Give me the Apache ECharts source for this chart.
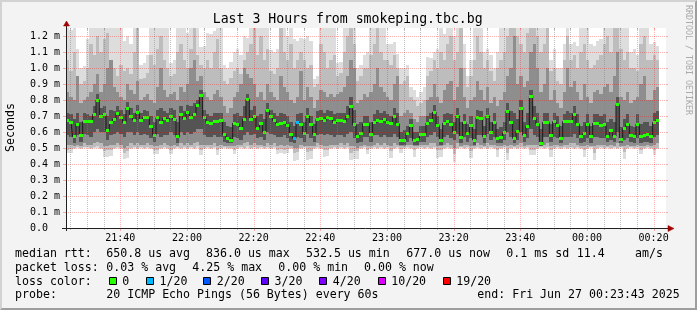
<!DOCTYPE html>
<html><head><meta charset="utf-8">
<script src="https://cdn.jsdelivr.net/npm/echarts@6/dist/echarts.min.js"></script>
<style>html,body{margin:0;padding:0;background:#f3f3f3}#c{width:697px;height:310px}</style>
</head><body><div id="c"></div>
<script>
// ---------------- data ----------------
const startTime = '21:23:43';
const stepSeconds = 60;
const rangeSeconds = 10800;
const xTickLabels = ['21:40','22:00','22:20','22:40','23:00','23:20','23:40','00:00','00:20'];
const yTickValues = [0,0.1,0.2,0.3,0.4,0.5,0.6,0.7,0.8,0.9,1.0,1.1,1.2];

// median rtt per minute (ms)
const median = [
 0.67,0.66,0.57,0.65,0.58,0.665,0.665,0.665,0.71,0.80,
 0.695,0.71,0.61,0.66,0.68,0.715,0.69,0.66,0.75,0.70,
 0.675,0.72,0.67,0.69,0.69,0.635,0.58,0.69,0.66,0.685,
 0.675,0.70,0.68,0.57,0.71,0.685,0.72,0.69,0.71,0.765,
 0.83,0.69,0.66,0.655,0.665,0.665,0.67,0.585,0.56,0.55,
 0.655,0.65,0.62,0.68,0.805,0.68,0.695,0.625,0.655,0.60,
 0.735,0.695,0.67,0.65,0.655,0.66,0.64,0.585,0.56,0.66,
 0.645,0.59,0.70,0.645,0.585,0.68,0.685,0.67,0.69,0.685,
 0.66,0.67,0.675,0.665,0.70,0.76,0.645,0.575,0.59,0.65,
 0.65,0.585,0.66,0.67,0.665,0.68,0.66,0.655,0.695,0.65,
 0.545,0.55,0.59,0.64,0.545,0.555,0.585,0.585,0.655,0.67,
 0.725,0.64,0.55,0.655,0.665,0.645,0.60,0.70,0.565,0.66,
 0.59,0.64,0.55,0.69,0.685,0.57,0.70,0.60,0.66,0.56,
 0.565,0.595,0.73,0.66,0.56,0.605,0.75,0.58,0.635,0.825,
 0.685,0.65,0.53,0.66,0.66,0.58,0.665,0.64,0.56,0.665,
 0.665,0.665,0.71,0.65,0.57,0.59,0.65,0.57,0.655,0.655,
 0.64,0.645,0.575,0.61,0.575,0.77,0.555,0.62,0.65,0.58,
 0.57,0.65,0.57,0.58,0.585,0.57,0.66,0.675];

// lost pings (of 20) per minute
const loss = [
 0,0,0,0,0,0,0,0,0,0, 0,0,0,0,0,0,0,0,0,0, 0,0,0,0,0,0,0,0,0,0,
 0,0,0,0,0,0,0,0,0,0, 0,0,0,0,0,0,0,0,0,0, 0,0,0,0,0,0,0,0,0,0,
 0,0,0,0,0,0,0,0,1,1, 0,0,0,0,0,0,0,0,0,0, 0,0,0,0,0,0,0,0,0,0,
 0,0,0,0,0,0,0,0,0,0, 0,0,0,0,0,0,0,0,0,0, 0,0,0,0,0,0,0,0,0,0,
 0,0,0,0,0,0,0,0,0,0, 0,0,0,0,0,0,0,0,0,0, 0,0,0,0,0,0,0,0,0,0,
 0,0,0,0,0,0,0,0,0,0, 0,0,0,0,0,0,0,0,0,0, 0,0,0,0,0,0,0,0];

// smoke: sorted ping rtts (ms), ping #1 (fastest) .. #20 (slowest)
const ping01 = [
 0.47,0.47,0.495,0.5,0.495,0.5,0.5,0.495,0.5,0.5,
 0.495,0.445,0.445,0.45,0.495,0.5,0.495,0.43,0.435,0.495,
 0.5,0.495,0.5,0.495,0.5,0.495,0.46,0.46,0.495,0.5,
 0.495,0.46,0.495,0.5,0.495,0.5,0.495,0.5,0.495,0.5,
 0.455,0.495,0.5,0.495,0.5,0.455,0.495,0.5,0.495,0.495,
 0.465,0.495,0.5,0.495,0.5,0.495,0.5,0.495,0.5,0.495,
 0.5,0.495,0.5,0.465,0.47,0.465,0.47,0.495,0.42,0.425,
 0.495,0.5,0.425,0.43,0.495,0.5,0.495,0.445,0.45,0.495,
 0.5,0.495,0.5,0.495,0.5,0.425,0.43,0.43,0.495,0.5,
 0.465,0.495,0.5,0.495,0.5,0.495,0.5,0.44,0.495,0.5,
 0.47,0.495,0.5,0.495,0.445,0.495,0.5,0.495,0.5,0.495,
 0.5,0.44,0.445,0.495,0.5,0.495,0.41,0.495,0.5,0.495,
 0.5,0.435,0.495,0.5,0.495,0.5,0.495,0.5,0.495,0.445,
 0.495,0.5,0.425,0.495,0.5,0.495,0.5,0.495,0.5,0.455,
 0.455,0.495,0.5,0.495,0.5,0.445,0.495,0.5,0.495,0.5,
 0.495,0.5,0.495,0.5,0.495,0.445,0.495,0.5,0.425,0.495,
 0.5,0.495,0.5,0.495,0.5,0.495,0.5,0.43,0.495,0.5,
 0.495,0.5,0.465,0.495,0.5,0.495,0.455,0.495];
const ping03 = [
 0.49,0.495,0.5,0.505,0.5,0.505,0.505,0.5,0.505,0.51,
 0.5,0.48,0.485,0.49,0.5,0.505,0.5,0.47,0.48,0.5,
 0.505,0.5,0.505,0.5,0.505,0.5,0.49,0.49,0.5,0.505,
 0.5,0.49,0.5,0.505,0.5,0.505,0.5,0.505,0.5,0.51,
 0.49,0.5,0.505,0.5,0.505,0.49,0.5,0.505,0.5,0.5,
 0.49,0.5,0.505,0.5,0.51,0.5,0.505,0.5,0.505,0.5,
 0.505,0.5,0.505,0.49,0.495,0.49,0.495,0.5,0.47,0.475,
 0.5,0.505,0.475,0.48,0.5,0.505,0.5,0.485,0.49,0.5,
 0.505,0.5,0.505,0.5,0.505,0.47,0.48,0.48,0.5,0.505,
 0.49,0.5,0.505,0.5,0.505,0.5,0.505,0.48,0.5,0.505,
 0.495,0.5,0.505,0.5,0.485,0.5,0.505,0.5,0.505,0.5,
 0.505,0.485,0.485,0.5,0.505,0.5,0.46,0.5,0.505,0.5,
 0.505,0.48,0.5,0.505,0.5,0.505,0.5,0.505,0.5,0.485,
 0.5,0.505,0.47,0.5,0.505,0.5,0.505,0.5,0.505,0.49,
 0.49,0.5,0.505,0.5,0.505,0.485,0.5,0.505,0.5,0.505,
 0.5,0.505,0.5,0.505,0.5,0.485,0.5,0.505,0.47,0.5,
 0.505,0.5,0.505,0.5,0.505,0.5,0.505,0.475,0.5,0.505,
 0.5,0.505,0.49,0.5,0.505,0.5,0.49,0.5];
const ping06 = [
 0.52,0.52,0.51,0.52,0.51,0.53,0.52,0.52,0.53,0.54,
 0.53,0.51,0.51,0.52,0.52,0.53,0.52,0.5,0.51,0.53,
 0.52,0.53,0.52,0.52,0.53,0.52,0.51,0.51,0.52,0.53,
 0.52,0.51,0.52,0.51,0.53,0.52,0.53,0.52,0.53,0.54,
 0.52,0.52,0.52,0.52,0.53,0.51,0.52,0.51,0.51,0.51,
 0.51,0.52,0.52,0.53,0.54,0.52,0.53,0.52,0.52,0.51,
 0.53,0.52,0.53,0.51,0.52,0.51,0.52,0.51,0.5,0.5,
 0.52,0.51,0.51,0.51,0.51,0.53,0.52,0.51,0.51,0.52,
 0.52,0.52,0.53,0.52,0.53,0.51,0.51,0.5,0.51,0.52,
 0.51,0.51,0.52,0.53,0.52,0.53,0.52,0.51,0.53,0.52,
 0.51,0.51,0.52,0.52,0.51,0.51,0.52,0.52,0.52,0.53,
 0.53,0.51,0.51,0.52,0.53,0.52,0.5,0.53,0.51,0.52,
 0.52,0.51,0.51,0.53,0.52,0.51,0.53,0.52,0.52,0.51,
 0.51,0.52,0.51,0.52,0.51,0.52,0.53,0.51,0.52,0.52,
 0.52,0.52,0.51,0.52,0.53,0.51,0.52,0.52,0.51,0.52,
 0.52,0.53,0.53,0.52,0.51,0.51,0.52,0.51,0.51,0.52,
 0.52,0.52,0.51,0.52,0.51,0.53,0.51,0.51,0.52,0.51,
 0.51,0.52,0.51,0.51,0.52,0.51,0.52,0.53];
const ping09 = [
 0.58,0.57,0.53,0.58,0.54,0.59,0.58,0.57,0.60,0.62,
 0.60,0.60,0.55,0.58,0.59,0.60,0.59,0.57,0.60,0.60,
 0.58,0.60,0.58,0.59,0.58,0.56,0.54,0.59,0.57,0.58,
 0.58,0.60,0.58,0.53,0.60,0.58,0.60,0.59,0.60,0.62,
 0.62,0.58,0.57,0.57,0.58,0.57,0.57,0.54,0.53,0.53,
 0.57,0.56,0.55,0.58,0.60,0.58,0.59,0.56,0.57,0.55,
 0.60,0.59,0.58,0.57,0.57,0.58,0.56,0.54,0.53,0.57,
 0.56,0.54,0.59,0.56,0.54,0.58,0.59,0.58,0.59,0.58,
 0.57,0.58,0.58,0.57,0.59,0.60,0.56,0.53,0.54,0.57,
 0.57,0.54,0.58,0.58,0.57,0.58,0.57,0.57,0.59,0.57,
 0.52,0.52,0.54,0.56,0.52,0.52,0.54,0.54,0.57,0.58,
 0.60,0.57,0.52,0.57,0.58,0.56,0.55,0.59,0.53,0.57,
 0.54,0.56,0.52,0.58,0.58,0.53,0.59,0.55,0.57,0.53,
 0.53,0.55,0.60,0.57,0.53,0.55,0.60,0.54,0.56,0.62,
 0.58,0.57,0.51,0.57,0.57,0.54,0.57,0.56,0.53,0.57,
 0.57,0.57,0.59,0.56,0.53,0.54,0.56,0.53,0.57,0.57,
 0.56,0.56,0.54,0.55,0.54,0.60,0.53,0.55,0.56,0.54,
 0.53,0.56,0.53,0.54,0.54,0.53,0.57,0.58];
const ping12 = [
 0.72,0.71,0.68,0.72,0.66,0.72,0.71,0.70,0.76,0.84,
 0.75,0.76,0.70,0.74,0.73,0.76,0.74,0.71,0.79,0.75,
 0.72,0.77,0.72,0.74,0.73,0.70,0.66,0.74,0.75,0.73,
 0.72,0.75,0.74,0.66,0.76,0.73,0.77,0.76,0.78,0.80,
 0.86,0.74,0.71,0.70,0.72,0.72,0.72,0.66,0.64,0.63,
 0.71,0.72,0.70,0.76,0.84,0.74,0.76,0.70,0.71,0.68,
 0.78,0.74,0.72,0.70,0.72,0.71,0.70,0.66,0.64,0.71,
 0.72,0.66,0.75,0.70,0.65,0.73,0.74,0.72,0.74,0.73,
 0.71,0.72,0.72,0.72,0.76,0.82,0.74,0.65,0.66,0.70,
 0.70,0.66,0.71,0.74,0.72,0.73,0.71,0.70,0.75,0.72,
 0.60,0.61,0.64,0.68,0.60,0.60,0.64,0.64,0.70,0.72,
 0.77,0.70,0.62,0.71,0.72,0.71,0.66,0.75,0.66,0.71,
 0.65,0.70,0.62,0.74,0.73,0.64,0.75,0.66,0.72,0.62,
 0.63,0.66,0.78,0.73,0.72,0.68,0.80,0.66,0.72,0.86,
 0.76,0.72,0.62,0.72,0.72,0.65,0.72,0.70,0.64,0.71,
 0.73,0.72,0.76,0.71,0.64,0.66,0.71,0.64,0.71,0.71,
 0.70,0.71,0.66,0.68,0.66,0.82,0.63,0.68,0.71,0.64,
 0.63,0.71,0.65,0.66,0.66,0.64,0.72,0.73];
const ping15 = [
 0.85,0.82,0.80,0.95,0.78,0.80,0.82,0.85,0.90,0.96,
 0.85,0.90,1.00,1.05,0.88,0.85,0.82,0.80,0.90,0.86,
 0.84,0.92,0.80,0.82,0.84,0.80,0.78,0.88,1.00,0.86,
 0.82,0.84,0.85,0.80,0.88,0.85,0.90,1.00,1.05,0.92,
 0.95,0.85,0.82,0.80,0.84,0.86,0.82,0.76,0.72,0.75,
 0.82,0.85,0.90,1.00,0.96,0.94,0.90,0.82,0.85,0.80,
 0.90,0.85,0.82,0.80,0.95,0.88,0.85,0.80,0.78,0.82,
 0.98,0.80,0.88,0.82,0.75,0.80,0.86,0.85,0.82,0.84,
 0.82,0.84,0.85,0.88,0.95,1.05,1.00,0.78,0.80,0.84,
 0.82,0.85,0.90,1.00,0.88,0.85,0.82,0.80,0.90,0.95,
 0.70,0.72,0.74,0.72,0.68,0.66,0.70,0.70,0.80,0.82,
 0.90,0.82,0.78,0.86,0.90,0.92,0.80,0.88,1.00,0.82,
 0.75,0.80,0.82,0.92,0.86,0.80,0.88,0.78,0.82,0.76,
 0.80,0.85,0.95,1.00,1.20,0.90,0.95,0.88,0.92,1.10,
 1.15,1.00,0.85,0.90,1.00,0.80,0.86,0.78,0.75,0.85,
 1.00,0.88,0.92,0.85,0.80,0.90,0.82,0.78,0.85,0.86,
 0.84,0.88,0.90,0.85,0.95,1.10,0.82,0.80,0.85,0.78,
 0.80,0.82,0.90,0.95,0.80,0.80,0.86,0.88];
const ping18 = [
 1.05,0.98,1.10,0.95,0.90,0.92,1.00,1.15,1.08,1.20,
 1.10,1.18,1.22,1.05,1.00,0.95,1.02,0.98,1.00,0.96,
 1.10,1.25,0.93,0.94,0.97,1.08,1.02,1.12,1.20,1.05,
 1.00,0.95,0.96,1.10,1.15,1.05,1.00,1.12,1.30,1.08,
 1.02,1.00,1.05,1.00,1.10,1.18,1.00,0.92,0.90,0.94,
 0.98,1.00,0.96,1.05,1.10,1.15,1.30,1.08,1.20,1.05,
 1.12,0.98,0.96,1.00,1.25,1.10,1.05,1.15,1.00,1.05,
 1.10,1.05,1.00,1.02,0.88,0.90,1.15,1.10,1.00,1.05,
 1.08,0.95,0.97,1.10,1.20,1.30,1.15,0.92,0.95,1.00,
 1.00,1.08,1.15,1.30,1.10,1.05,1.05,1.02,1.08,1.00,
 0.90,0.92,0.95,0.82,0.80,0.76,0.78,0.80,0.95,0.98,
 1.05,1.00,1.10,1.05,1.15,1.20,1.05,1.10,1.25,1.00,
 0.88,0.95,1.05,1.20,1.10,1.00,1.05,0.98,0.92,1.00,
 1.05,1.10,1.20,1.25,1.30,1.20,1.15,1.10,1.22,1.30,
 1.30,1.20,1.10,1.15,1.25,0.98,1.00,0.92,0.90,1.05,
 1.20,1.05,1.08,1.00,1.10,1.15,1.05,1.00,1.02,1.05,
 1.08,1.15,1.20,1.10,1.25,1.30,1.12,1.05,1.10,1.00,
 1.00,0.98,1.15,1.20,1.05,1.05,1.08,1.05];
const ping20 = [
 1.30,1.24,1.30,1.12,1.00,1.01,1.18,1.30,1.30,1.30,
 1.30,1.30,1.30,1.30,1.30,1.30,1.30,1.17,1.20,1.15,
 1.30,1.30,1.02,1.03,1.08,1.30,1.30,1.30,1.30,1.30,
 1.30,1.03,1.05,1.30,1.30,1.30,1.22,1.30,1.30,1.30,
 1.13,1.14,1.22,1.21,1.23,1.30,1.30,1.02,1.00,1.04,
 1.10,1.12,1.08,1.20,1.19,1.30,1.30,1.30,1.30,1.30,
 1.30,1.11,1.10,1.12,1.30,1.30,1.20,1.30,1.18,1.17,
 1.19,1.18,1.20,1.17,0.93,0.95,1.30,1.30,1.30,1.30,
 1.30,1.03,1.04,1.30,1.30,1.30,1.30,1.00,1.02,1.08,
 1.10,1.30,1.30,1.30,1.30,1.30,1.15,1.15,1.16,1.09,
 1.00,1.00,1.02,0.88,0.86,0.82,0.85,0.88,1.07,1.06,
 1.10,1.12,1.30,1.21,1.30,1.30,1.20,1.30,1.30,1.15,
 0.95,1.05,1.30,1.30,1.30,1.10,1.12,1.08,1.00,1.10,
 1.30,1.30,1.30,1.30,1.30,1.30,1.30,1.30,1.30,1.30,
 1.30,1.30,1.30,1.30,1.30,1.05,1.12,1.00,1.00,1.15,
 1.30,1.15,1.16,1.14,1.30,1.30,1.30,1.15,1.14,1.17,
 1.18,1.30,1.30,1.30,1.30,1.30,1.30,1.30,1.30,1.10,
 1.12,1.08,1.30,1.30,1.30,1.15,1.16,1.14];

const legendRows = [
  {y: 254.4, items: [['median rtt:',15],['650.8 us avg',106.3],['836.0 us max',206],['532.5 us min',306],['677.0 us now',406.3],['0.1 ms sd',506.3],['11.4',576.7],['am/s',635]]},
  {y: 268.1, items: [['packet loss:',15],['0.03 % avg',106.3],['4.25 % max',192.3],['0.00 % min',278.3],['0.00 % now',364]]},
  {y: 281.7, items: [['loss color:',15]]},
  {y: 295.4, items: [['probe:',15],['20 ICMP Echo Pings (56 Bytes) every 60s',106.3],['end: Fri Jun 27 00:23:43 2025',477.3]]}
];
const lossLegendLabels = ['0','1/20','2/20','3/20','4/20','10/20','19/20'];
const lossLegendLevels = [0,1,2,3,4,10,19];
const lossLegendX = [108.7,146,203.3,261,319.3,377.7,442.7];
const lossColors = {0:'#26ff00',1:'#00b8ff',2:'#0059ff',3:'#5e00ff',4:'#7e00ff',10:'#dd00ff',19:'#ff0000'};

// ---------------- helpers ----------------
const FONT = '"DejaVu Sans Mono", monospace';
function toSec(s){const p=s.split(':').map(Number);return p[0]*3600+p[1]*60+(p[2]||0);}
const t0 = toSec(startTime);
function rel(label){let d=toSec(label)-t0; if(d<0) d+=86400; return d;}
const xTickSeconds = xTickLabels.map(rel);
const minorSeconds = [];
for (let s = Math.ceil(t0/300)*300 - t0; s <= rangeSeconds; s += 300) {
  if (xTickSeconds.indexOf(s) < 0) minorSeconds.push(s);
}
const bandColors = ['#dddddd','#bdbdbd','#8e8e8e','#545454'];

const smokeData = median.map((m,k)=>[k*stepSeconds, ping01[k], ping03[k], ping06[k], ping09[k], ping12[k], ping15[k], ping18[k], ping20[k]]);
const medLineData = median.map((m,k)=>[k*stepSeconds + stepSeconds/2, m]);
const medMarkData = median.map((m,k)=>[k*stepSeconds, m, loss[k]]);
const gridData = [];
minorSeconds.forEach(s=>gridData.push([0,s]));
xTickSeconds.forEach(s=>gridData.push([1,s]));
yTickValues.forEach(v=>{ if(v>0) gridData.push([2,v]); });

const GRID_MINOR = 'rgba(130,130,130,0.5)';
const GRID_MAJOR = 'rgba(255,0,0,0.3)';

function renderSmoke(params, api){
  const cs = params.coordSys;
  const t = api.value(0);
  const xa = Math.round(api.coord([t,0])[0]);
  const xb = Math.round(api.coord([t+stepSeconds,0])[0]);
  const top = cs.y, bot = cs.y + cs.height;
  const Y = v => Math.round(Math.min(bot, Math.max(top, api.coord([t, v])[1])));
  const kids = [];
  bandColors.forEach((c,i)=>{
    const lo = api.value(1+i), hi = api.value(8-i);
    const y1 = Y(hi), y2 = Y(lo);
    if (y2 > y1) kids.push({type:'rect', shape:{x:xa,y:y1,width:xb-xa,height:y2-y1}, style:{fill:c}});
  });
  return {type:'group', children:kids};
}
function renderMed(params, api){
  const t = api.value(0);
  const xa = Math.round(api.coord([t,0])[0]);
  const xb = Math.round(api.coord([t+stepSeconds,0])[0]);
  const y = api.coord([t, api.value(1)])[1];
  const lv = api.value(2);
  return {type:'rect', shape:{x:xa, y:Math.round(y-1.5), width:xb-xa, height:3}, style:{fill: lossColors[lv] || '#26ff00'}};
}
function renderGrid(params, api){
  const cs = params.coordSys;
  const kind = api.value(0), v = api.value(1);
  const top = cs.y, bot = cs.y + cs.height, left = cs.x, right = cs.x + cs.width;
  if (kind < 2) {
    const x = Math.round(api.coord([v,0])[0]) + 0.5;
    const col = kind === 1 ? GRID_MAJOR : GRID_MINOR;
    return {type:'group', children:[
      {type:'line', shape:{x1:x,y1:top,x2:x,y2:bot}, style:{stroke:col, lineWidth:1, lineDash:[1,1]}},
      {type:'line', shape:{x1:x,y1:bot,x2:x,y2:bot+(kind===1?3:2)}, style:{stroke:col, lineWidth:1}},
      {type:'line', shape:{x1:x,y1:top,x2:x,y2:top+2}, style:{stroke:col, lineWidth:1}}
    ]};
  }
  const y = Math.round(api.coord([0,v])[1]) + 0.5;
  return {type:'group', children:[
    {type:'line', shape:{x1:left,y1:y,x2:right,y2:y}, style:{stroke:GRID_MAJOR, lineWidth:1, lineDash:[1,1]}},
    {type:'line', shape:{x1:left-3,y1:y,x2:left,y2:y}, style:{stroke:GRID_MAJOR, lineWidth:1}},
    {type:'line', shape:{x1:right,y1:y,x2:right+2,y2:y}, style:{stroke:GRID_MAJOR, lineWidth:1}}
  ]};
}
function renderFrame(params, api){
  const cs = params.coordSys;
  const left = cs.x + 0.5, bot = cs.y + cs.height + 0.5, top = cs.y, right = cs.x + cs.width;
  const AX = '#202020', AR = '#a00000';
  return {type:'group', children:[
    {type:'line', shape:{x1:cs.x-4, y1:bot, x2:right+3, y2:bot}, style:{stroke:AX, lineWidth:1}},
    {type:'line', shape:{x1:left, y1:cs.y+cs.height+3, x2:left, y2:top-2}, style:{stroke:AX, lineWidth:1}},
    {type:'polygon', shape:{points:[[right+2,bot-3],[right+8,bot],[right+2,bot+3]]}, style:{fill:AR, stroke:AR, lineWidth:0.5}},
    {type:'polygon', shape:{points:[[left-3,top-2],[left,top-7],[left+3,top-2]]}, style:{fill:AR, stroke:AR, lineWidth:0.5}}
  ]};
}

// ---------------- graphic texts ----------------
const graphics = [
  {type:'polygon', silent:true, shape:{points:[[0,0],[697,0],[695,2],[2,2],[2,308],[0,310]]}, style:{fill:'#d2d2d2'}},
  {type:'polygon', silent:true, shape:{points:[[697,0],[697,310],[0,310],[2,308],[695,308],[695,2]]}, style:{fill:'#9e9e9e'}},
  {type:'text', x:347.7, y:19.5, style:{text:'Last 3 Hours from smokeping.tbc.bg', font:'13.2px '+FONT, fill:'#000', align:'center', verticalAlign:'middle'}},
  {type:'text', x:11, y:127.5, rotation:Math.PI/2, style:{text:'Seconds', font:'11.6px '+FONT, fill:'#000', align:'center', verticalAlign:'middle'}},
  {type:'text', x:688, y:5, rotation:-Math.PI/2, style:{text:'RRDTOOL / TOBI OETIKER', font:'8.3px '+FONT, fill:'#aaaaaa', align:'left', verticalAlign:'middle'}}
];
legendRows.forEach(r=>r.items.forEach(([txt,x])=>{
  graphics.push({type:'text', x:x, y:r.y, style:{text:txt, font:'11.6px '+FONT, fill:'#000', align:'left', verticalAlign:'middle'}});
}));
lossLegendLabels.forEach((lab,i)=>{
  const sx = Math.round(lossLegendX[i]) + 0.5;
  graphics.push({type:'rect', shape:{x:sx, y:277.5, width:7, height:7}, style:{fill:lossColors[lossLegendLevels[i]], stroke:'#000', lineWidth:1}});
  graphics.push({type:'text', x:lossLegendX[i]+13.5, y:281.7, style:{text:lab, font:'11.6px '+FONT, fill:'#000', align:'left', verticalAlign:'middle'}});
});

// ---------------- chart ----------------
const chart = echarts.init(document.getElementById('c'), null, {renderer:'canvas'});
chart.setOption({
  animation:false,
  backgroundColor:'#f3f3f3',
  grid:{left:66, top:28, width:600, height:200, show:true, backgroundColor:'#ffffff', borderWidth:0},
  xAxis:{type:'value', min:0, max:rangeSeconds, silent:true,
    axisLine:{show:false}, axisTick:{show:false}, splitLine:{show:false},
    axisLabel:{customValues:xTickSeconds, margin:10, verticalAlign:'middle', color:'#000', fontFamily:FONT, fontSize:10,
      formatter:v=>{const i=xTickSeconds.indexOf(v); return i>=0?xTickLabels[i]:'';}}},
  yAxis:{type:'value', min:0, max:1.25, silent:true,
    axisLine:{show:false}, axisTick:{show:false}, splitLine:{show:false},
    axisLabel:{customValues:yTickValues, margin:6, color:'#000', fontFamily:FONT, fontSize:10,
      formatter:v=> v===0 ? '0.0  ' : v.toFixed(1)+' m'}},
  graphic:graphics,
  series:[
    {type:'custom', name:'smoke', renderItem:renderSmoke, data:smokeData, encode:{x:0,y:1}, z:1, silent:true},
    {type:'line', name:'median', data:medLineData, step:'middle', showSymbol:false, symbol:'none', lineStyle:{color:'#1a1a1a', width:1}, z:2, silent:true},
    {type:'custom', name:'medianLoss', renderItem:renderMed, data:medMarkData, encode:{x:0,y:1}, z:3, silent:true},
    {type:'custom', name:'grid', renderItem:renderGrid, data:gridData, encode:{x:1}, z:4, silent:true},
    {type:'custom', name:'frame', renderItem:renderFrame, data:[[0,0]], encode:{x:0,y:1}, z:5, silent:true}
  ]
});
</script></body></html>
